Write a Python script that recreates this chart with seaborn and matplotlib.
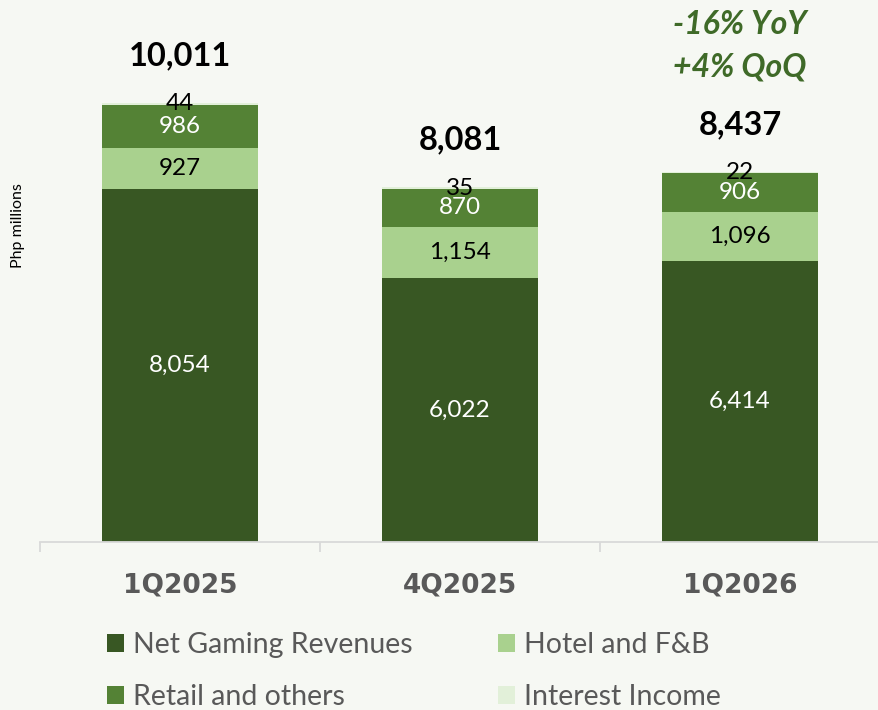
import numpy as np
import pandas as pd
import seaborn as sns
import matplotlib.pyplot as plt
from matplotlib.patches import Patch

# Data
quarters = ['1Q2025', '4Q2025', '1Q2026']
net_gaming = [8054, 6022, 6414]
hotel_fb = [927, 1154, 1096]
retail = [986, 870, 906]
interest = [44, 35, 22]
totals = [10011, 8081, 8437]
segments = ['Net Gaming Revenues', 'Hotel and F&B', 'Retail and others', 'Interest Income']
colors = ['#385723', '#A9D18E', '#548235', '#E2F0D9']
label_colors = ['white', 'black', 'white', 'black']
growth_notes = ['-16% YoY', '+4% QoQ']

bg = '#F6F8F3'
sns.set_style('white')
plt.rcParams['font.family'] = ['Lato', 'DejaVu Sans']

df = pd.DataFrame({'quarter': quarters, segments[0]: net_gaming, segments[1]: hotel_fb,
                   segments[2]: retail, segments[3]: interest})
cum = df[segments].cumsum(axis=1)

fig = plt.figure(figsize=(8.79, 7.10), dpi=100, facecolor=bg)
ax = fig.add_axes([40 / 879, 168 / 710, 840 / 879, 542 / 710])
ax.set_facecolor(bg)

# stacked bars: draw cumulative layers from the top down
for seg, col in reversed(list(zip(segments, colors))):
    sns.barplot(x=df['quarter'], y=cum[seg], color=col, width=0.557,
                errorbar=None, saturation=1, linewidth=0, ax=ax)

# segment labels
for i in range(len(quarters)):
    bottom = 0
    for seg, lc in zip(segments, label_colors):
        v = df[seg][i]
        ax.text(i, bottom + v / 2, f'{v:,}', ha='center', va='center',
                fontsize=17.5, color=lc)
        bottom += v
    ax.annotate(f'{totals[i]:,}', (i, totals[i]), xytext=(0, 34),
                textcoords='offset points', ha='center', va='center',
                fontsize=23.5, fontweight='bold', color='black')

# growth note above the last bar
for note, ypx in zip(growth_notes, [24, 67]):
    fig.text(740 / 879, 1 - ypx / 710, note, ha='center', va='center',
             fontsize=23, fontweight='bold', fontstyle='italic', color='#3F6A28')

ax.set_xlim(-0.5, 2.5)
ax.set_ylim(0, 12350)
ax.set_xlabel('')
ax.set_ylabel('')
ax.set_yticks([])
for s in ['top', 'right', 'left']:
    ax.spines[s].set_visible(False)
ax.spines['bottom'].set_color('#D9D9D9')
ax.spines['bottom'].set_linewidth(1.3)
ax.set_xticks(range(len(quarters)))
ax.set_xticklabels(quarters, fontsize=19, fontweight='bold', color='#595959',
                   family='DejaVu Sans')
ax.set_xticks([-0.5, 0.5, 1.5, 2.5], minor=True)
ax.tick_params(axis='x', which='major', length=0, pad=22)
ax.tick_params(axis='x', which='minor', length=7.5, width=1.3, color='#D9D9D9',
               direction='out', bottom=True)

fig.text(18 / 879, 1 - 226 / 710, 'Php millions', rotation=90, ha='center',
         va='center', fontsize=11.5, color='black')

# legend (order so that rows read Net/Hotel, Retail/Interest)
order = [0, 2, 1, 3]
handles = [Patch(facecolor=colors[k], edgecolor='none', label=segments[k]) for k in order]
fig.legend(handles=handles, loc='upper left', bbox_to_anchor=(107 / 879, 1 - 632 / 710),
           ncol=2, frameon=False, fontsize=20.5, labelcolor='#595959',
           handlelength=0.6, handleheight=0.6, handletextpad=0.32,
           columnspacing=3.0, labelspacing=0.92, borderpad=0, borderaxespad=0)

fig.savefig('out.png', dpi=100, facecolor=bg)
